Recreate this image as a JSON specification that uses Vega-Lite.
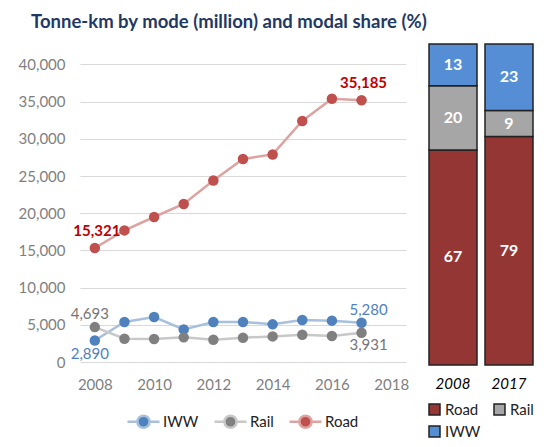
{
  "$schema": "https://vega.github.io/schema/vega-lite/v6.json",
  "background": "white",
  "padding": {"left": 18, "top": 12, "right": 5, "bottom": 5},
  "title": {"text": "Tonne-km by mode (million) and modal share (%)", "anchor": "start", "fontSize": 18.5, "font": "Lato", "fontWeight": "bold", "color": "#1F3864", "offset": 12, "dx": 13},
  "config": {"font": "Lato", "view": {"stroke": null}},
  "datasets": {
    "tkm": [
      {"year": 2008, "mode": "IWW", "tkm": 2890},
      {"year": 2009, "mode": "IWW", "tkm": 5380},
      {"year": 2010, "mode": "IWW", "tkm": 6050},
      {"year": 2011, "mode": "IWW", "tkm": 4380},
      {"year": 2012, "mode": "IWW", "tkm": 5380},
      {"year": 2013, "mode": "IWW", "tkm": 5380},
      {"year": 2014, "mode": "IWW", "tkm": 5060},
      {"year": 2015, "mode": "IWW", "tkm": 5640},
      {"year": 2016, "mode": "IWW", "tkm": 5560},
      {"year": 2017, "mode": "IWW", "tkm": 5280},
      {"year": 2008, "mode": "Rail", "tkm": 4693},
      {"year": 2009, "mode": "Rail", "tkm": 3130},
      {"year": 2010, "mode": "Rail", "tkm": 3090},
      {"year": 2011, "mode": "Rail", "tkm": 3310},
      {"year": 2012, "mode": "Rail", "tkm": 3000},
      {"year": 2013, "mode": "Rail", "tkm": 3270},
      {"year": 2014, "mode": "Rail", "tkm": 3440},
      {"year": 2015, "mode": "Rail", "tkm": 3670},
      {"year": 2016, "mode": "Rail", "tkm": 3490},
      {"year": 2017, "mode": "Rail", "tkm": 3931},
      {"year": 2008, "mode": "Road", "tkm": 15321},
      {"year": 2009, "mode": "Road", "tkm": 17690},
      {"year": 2010, "mode": "Road", "tkm": 19490},
      {"year": 2011, "mode": "Road", "tkm": 21240},
      {"year": 2012, "mode": "Road", "tkm": 24400},
      {"year": 2013, "mode": "Road", "tkm": 27280},
      {"year": 2014, "mode": "Road", "tkm": 27900},
      {"year": 2015, "mode": "Road", "tkm": 32390},
      {"year": 2016, "mode": "Road", "tkm": 35390},
      {"year": 2017, "mode": "Road", "tkm": 35185}
    ],
    "share": [
      {"period": "2008", "mode": "Road", "share": 67},
      {"period": "2008", "mode": "Rail", "share": 20},
      {"period": "2008", "mode": "IWW", "share": 13},
      {"period": "2017", "mode": "Road", "share": 79},
      {"period": "2017", "mode": "Rail", "share": 9},
      {"period": "2017", "mode": "IWW", "share": 23}
    ]
  },
  "spacing": 12,
  "hconcat": [
    {
      "width": 326,
      "height": 318,
      "data": {"name": "tkm"},
      "encoding": {
        "x": {"field": "year", "type": "quantitative", "scale": {"domain": [2007.5, 2018.5], "nice": false, "zero": false},
          "axis": {"values": [2008, 2010, 2012, 2014, 2016, 2018], "format": "d", "grid": false, "domain": false, "ticks": false, "labelPadding": 15, "labelFontSize": 15, "labelColor": "#7f7f7f", "title": null}},
        "y": {"field": "tkm", "type": "quantitative", "scale": {"domain": [0, 42742], "nice": false},
          "axis": {"values": [0, 5000, 10000, 15000, 20000, 25000, 30000, 35000, 40000], "format": ",.0f", "domain": false, "ticks": false, "gridColor": "#d9d9d9", "labelPadding": 15, "labelFontSize": 15, "labelColor": "#7f7f7f", "title": null}}
      },
      "layer": [
        {
          "mark": {"type": "line", "strokeWidth": 2.5},
          "encoding": {
            "stroke": {"field": "mode", "type": "nominal", "scale": {"domain": ["IWW", "Rail", "Road"], "range": ["#A7C0DE", "#C8C8C8", "#DDA3A1"]},
              "legend": {"orient": "none", "legendX": 46, "legendY": 360, "direction": "horizontal", "title": null, "symbolType": "M-1,0L-0.4,0M0.4,0L1,0M-0.38,0A0.38,0.38,0,1,1,0.38,0A0.38,0.38,0,1,1,-0.38,0Z", "symbolSize": 1024, "symbolStrokeWidth": 2.5, "labelFontSize": 15, "labelColor": "#222222", "labelOffset": 2, "columnPadding": 10}}
          }
        },
        {
          "mark": {"type": "point", "filled": true, "size": 110, "opacity": 1},
          "encoding": {
            "fill": {"field": "mode", "type": "nominal", "scale": {"domain": ["IWW", "Rail", "Road"], "range": ["#4F81BD", "#808080", "#C0504D"]},
              "legend": {"orient": "none", "legendX": 46, "legendY": 360, "direction": "horizontal", "title": null, "symbolType": "M-1,0L-0.4,0M0.4,0L1,0M-0.38,0A0.38,0.38,0,1,1,0.38,0A0.38,0.38,0,1,1,-0.38,0Z", "symbolSize": 1024, "symbolStrokeWidth": 2.5, "labelFontSize": 15, "labelColor": "#222222", "labelOffset": 2, "columnPadding": 10}}
          }
        },
        {
          "transform": [{"filter": "datum.mode == 'Road' && (datum.year == 2008 || datum.year == 2017)"}],
          "mark": {"type": "text", "fontSize": 15, "fontWeight": "bold", "color": "#C00000", "dx": 2, "dy": -17},
          "encoding": {"text": {"field": "tkm", "type": "quantitative", "format": ","}}
        },
        {
          "transform": [{"filter": "datum.mode == 'Rail' && datum.year == 2008"}],
          "mark": {"type": "text", "fontSize": 15, "color": "#767676", "dx": -5, "dy": -13},
          "encoding": {"text": {"field": "tkm", "type": "quantitative", "format": ","}}
        },
        {
          "transform": [{"filter": "datum.mode == 'Rail' && datum.year == 2017"}],
          "mark": {"type": "text", "fontSize": 15, "color": "#767676", "dx": 7, "dy": 12},
          "encoding": {"text": {"field": "tkm", "type": "quantitative", "format": ","}}
        },
        {
          "transform": [{"filter": "datum.mode == 'IWW' && datum.year == 2008"}],
          "mark": {"type": "text", "fontSize": 15, "color": "#4F81BD", "dx": -5, "dy": 14},
          "encoding": {"text": {"field": "tkm", "type": "quantitative", "format": ","}}
        },
        {
          "transform": [{"filter": "datum.mode == 'IWW' && datum.year == 2017"}],
          "mark": {"type": "text", "fontSize": 15, "color": "#4F81BD", "dx": 7, "dy": -13},
          "encoding": {"text": {"field": "tkm", "type": "quantitative", "format": ","}}
        }
      ]
    },
    {
      "width": 120,
      "height": 321,
      "data": {"name": "share"},
      "encoding": {
        "x": {"field": "period", "type": "nominal", "scale": {"paddingInner": 0.143, "paddingOuter": 0.143},
          "axis": {"labelAngle": 0, "domain": false, "ticks": false, "labelPadding": 11, "labelFontSize": 15, "labelFontStyle": "italic", "labelColor": "#000000", "title": null}},
        "order": {"field": "mode", "sort": "descending"}
      },
      "layer": [
        {
          "mark": {"type": "bar", "stroke": "#222222", "strokeWidth": 1.5},
          "encoding": {
            "y": {"field": "share", "type": "quantitative", "stack": "normalize", "axis": null},
            "color": {"field": "mode", "type": "nominal", "scale": {"domain": ["Road", "IWW", "Rail"], "range": ["#943634", "#558ED5", "#A6A6A6"]},
              "legend": {"orient": "none", "legendX": 6, "legendY": 358, "columns": 2, "title": null, "symbolType": "square", "symbolSize": 121, "symbolStrokeColor": "#222222", "symbolStrokeWidth": 1.5, "labelFontSize": 15, "labelColor": "#222222", "labelOffset": 3, "columnPadding": 10, "rowPadding": 5}}
          }
        },
        {
          "mark": {"type": "text", "color": "white", "fontWeight": "bold", "fontSize": 16},
          "encoding": {
            "y": {"field": "share", "type": "quantitative", "stack": "normalize", "bandPosition": 0.5, "axis": null},
            "detail": {"field": "mode", "type": "nominal"},
            "text": {"field": "share", "type": "quantitative"}
          }
        }
      ]
    }
  ],
  "resolve": {
    "scale": {"color": "independent", "fill": "independent", "stroke": "independent"},
    "legend": {"color": "independent", "fill": "independent", "stroke": "independent"}
  }
}
